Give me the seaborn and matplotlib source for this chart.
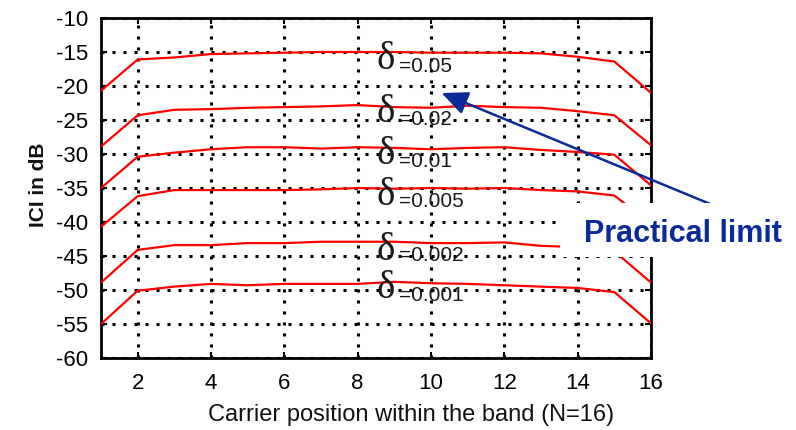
import numpy as np
import pandas as pd
import matplotlib
matplotlib.use("Agg")
import matplotlib.pyplot as plt
from matplotlib.patches import Rectangle
import seaborn as sns

carrier = list(range(1, 17))
ici_005 = [-20.7, -16.1, -15.8, -15.3, -15.2, -15.1, -15.0, -15.0, -15.0, -15.1, -15.1, -15.1, -15.2, -15.7, -16.4, -21.0]
ici_002 = [-28.9, -24.3, -23.5, -23.4, -23.2, -23.1, -23.0, -22.8, -23.1, -23.2, -22.9, -23.1, -23.2, -23.7, -24.3, -28.7]
ici_001 = [-35.0, -30.4, -29.8, -29.3, -29.0, -29.0, -29.2, -29.0, -29.1, -29.3, -29.1, -29.0, -29.4, -29.7, -30.1, -34.6]
ici_0005 = [-40.7, -36.2, -35.3, -35.3, -35.3, -35.3, -35.2, -35.0, -35.1, -35.0, -35.1, -35.0, -35.3, -35.5, -36.1, -40.3]
ici_0002 = [-48.9, -44.1, -43.4, -43.4, -43.1, -43.1, -42.9, -42.9, -42.9, -43.1, -43.1, -43.0, -43.5, -43.7, -44.3, -48.9]
ici_0001 = [-55.0, -50.1, -49.5, -49.1, -49.3, -49.1, -49.1, -49.1, -48.8, -49.0, -49.1, -49.3, -49.5, -49.7, -50.3, -54.9]

delta_labels = ["=0.05", "=0.02", "=0.01", "=0.005", "=0.002", "=0.001"]
delta_sym_y = [-17.5, -25.3, -31.4, -37.5, -45.6, -51.2]
delta_txt_y = [-17.9, -25.7, -31.9, -37.75, -45.8, -51.6]

xticks = [2, 4, 6, 8, 10, 12, 14, 16]
yticks = list(range(-60, -9, 5))

series = {
    "0.05": ici_005, "0.02": ici_002, "0.01": ici_001,
    "0.005": ici_0005, "0.002": ici_0002, "0.001": ici_0001,
}
df = pd.DataFrame(
    [(k, x, v) for k, vals in series.items() for x, v in zip(carrier, vals)],
    columns=["delta", "carrier", "ici"],
)

sns.set_theme(style="white")
plt.rcParams["font.family"] = ["Liberation Sans", "DejaVu Sans"]

fig = plt.figure(figsize=(7.96, 4.30), dpi=100)
ax = fig.add_axes([0.1269, 0.1674, 0.8178 - 0.1269, 0.9581 - 0.1674])

sns.lineplot(data=df, x="carrier", y="ici", hue="delta",
             palette=["#ff0000"] * 6, linewidth=1.6, legend=False, ax=ax,
             zorder=3)

ax.set_xlim(1, 16)
ax.set_ylim(-60, -10)
ax.set_xticks(xticks)
ax.set_yticks(yticks)
ax.set_xticklabels([str(t) for t in xticks], fontsize=16)
ax.set_yticklabels([str(t) for t in yticks], fontsize=16)
ax.grid(True, color="black", linestyle=(0, (1, 2.6)), linewidth=2.2)
ax.tick_params(direction="in", length=4, width=1.5, colors="black",
               top=True, right=True, bottom=True, left=True)
ax.tick_params(axis="x", pad=11)
ax.tick_params(axis="y", pad=9)
for s in ax.spines.values():
    s.set_visible(True)
    s.set_color("black")
    s.set_linewidth(2.0)

ax.set_xlabel("Carrier position within the band (N=16)", fontsize=17, color="#111111")
ax.xaxis.set_label_coords(0.564, -0.135)
ax.set_ylabel("ICI in dB", fontsize=15, fontweight="bold", color="#111111")
ax.yaxis.set_label_coords(-0.097, 0.51)

for lab, ys, yt in zip(delta_labels, delta_sym_y, delta_txt_y):
    ax.text(8.52, ys, "\u03b4", fontsize=28, family=["Liberation Serif", "DejaVu Serif"],
            color="#1a1a1a", va="baseline", ha="left", zorder=4)
    ax.text(9.13, yt, lab, fontsize=15, color="#1a1a1a", va="baseline", ha="left", zorder=4)

ax.annotate("", xy=(10.29, -21.03), xytext=(17.75, -37.65),
            arrowprops=dict(arrowstyle="-|>,head_length=0.8,head_width=0.36",
                            mutation_scale=20, color="#0a2a9a", lw=1.8,
                            shrinkA=0, shrinkB=0),
            annotation_clip=False, zorder=5)

box = Rectangle((560 / 796, 1 - 257 / 430), 236 / 796, 54 / 430,
                transform=fig.transFigure, facecolor="white", edgecolor="none",
                zorder=10)
fig.add_artist(box)
fig.text(683 / 796, 1 - 242 / 430, "Practical limit", fontsize=22,
         fontweight="bold", color="#0a2a9a", ha="center", va="baseline", zorder=11)

fig.savefig("out.png", dpi=100)
